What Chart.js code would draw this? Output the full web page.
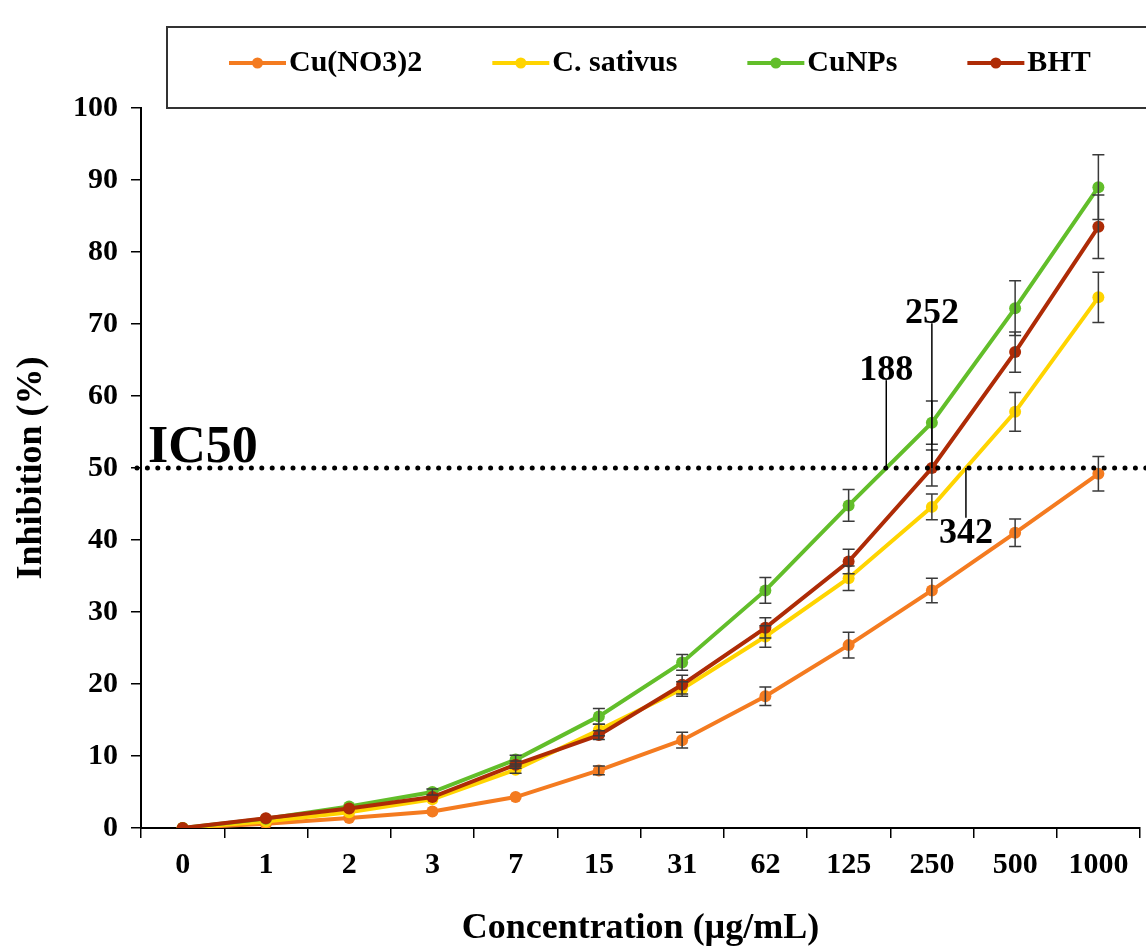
<!DOCTYPE html>
<html>
<head>
<meta charset="utf-8">
<script src="https://cdn.jsdelivr.net/npm/chart.js@4.4.0/dist/chart.umd.min.js"></script>
<style>
  html, body { margin: 0; padding: 0; background: #fff; }
</style>
</head>
<body>
<canvas id="inhibitionChart" width="1146" height="950"></canvas>
<script>
// Concentration categories (µg/mL)
const concentrations = ['0', '1', '2', '3', '7', '15', '31', '62', '125', '250', '500', '1000'];
const seriesNames = ['Cu(NO3)2', 'C. sativus', 'CuNPs', 'BHT'];

// Inhibition (%)
const cuNitrate = [0, 0.6, 1.4, 2.3, 4.3, 8.0, 12.2, 18.3, 25.4, 33.0, 41.0, 49.2];
const cSativus  = [0, 0.9, 2.2, 4.0, 8.1, 13.6, 19.3, 26.6, 34.7, 44.6, 57.8, 73.7];
const cuNPs     = [0, 1.3, 3.0, 5.0, 9.5, 15.5, 23.0, 33.0, 44.8, 56.3, 72.2, 89.0];
const bht       = [0, 1.35, 2.7, 4.3, 8.8, 12.9, 19.9, 27.8, 37.0, 50.0, 66.1, 83.5];

// +/- error (%)
const cuNitrateErr = [0, 0, 0, 0, 0, 0.6, 1.1, 1.3, 1.8, 1.7, 1.9, 2.4];
const cSativusErr  = [0, 0, 0, 0, 0.5, 0.8, 1.0, 1.5, 1.7, 1.8, 2.7, 3.5];
const cuNPsErr     = [0, 0, 0, 0.4, 0.6, 1.1, 1.1, 1.8, 2.2, 3.0, 3.8, 4.5];
const bhtErr       = [0, 0, 0, 0, 0.5, 0.6, 1.3, 1.4, 1.7, 2.5, 2.8, 4.4];

// IC50 markers: value text, series index it marks, y value where the label sits
const ic50Level = 50;
const ic50Labels = ['188', '252', '342'];
const ic50Series = [2, 3, 1];
const ic50LabelY = [62.2, 70.1, 43.1];

const seriesColors = ['#F47B20', '#FFD400', '#62BE2A', '#AE2B06'];
const errorBars = [cuNitrateErr, cSativusErr, cuNPsErr, bhtErr];
const serif = '"Liberation Serif", "Times New Roman", serif';

// error bars, IC50 line + labels, framed legend
const extras = {
    id: 'extras',
    afterDatasetsDraw(chart) {
        const {ctx, scales: {x, y}} = chart;
        ctx.save();
        ctx.strokeStyle = '#3a3a3a';
        ctx.lineWidth = 1.5;
        chart.data.datasets.forEach((ds, di) => {
            const errs = errorBars[di];
            ds.data.forEach((v, i) => {
                if (!errs[i]) return;
                const px = x.getPixelForValue(i);
                const top = y.getPixelForValue(v + errs[i]);
                const bot = y.getPixelForValue(v - errs[i]);
                ctx.beginPath();
                ctx.moveTo(px, top); ctx.lineTo(px, bot);
                ctx.moveTo(px - 6, top); ctx.lineTo(px + 6, top);
                ctx.moveTo(px - 6, bot); ctx.lineTo(px + 6, bot);
                ctx.stroke();
            });
        });

        // leader lines and labels where each curve crosses 50 %
        const yLevel = y.getPixelForValue(ic50Level);
        ctx.strokeStyle = '#000';
        ctx.fillStyle = '#000';
        ctx.lineWidth = 1.5;
        ctx.font = 'bold 36px ' + serif;
        ctx.textAlign = 'center';
        ic50Labels.forEach((txt, k) => {
            const d = chart.data.datasets[ic50Series[k]].data;
            let px = null;
            for (let i = 0; i < d.length - 1; i++) {
                if (d[i] < ic50Level && d[i + 1] >= ic50Level) {
                    const t = (ic50Level - d[i]) / (d[i + 1] - d[i]);
                    const a = x.getPixelForValue(i), b = x.getPixelForValue(i + 1);
                    px = a + t * (b - a);
                    break;
                }
            }
            if (px === null) return;
            const ly = y.getPixelForValue(ic50LabelY[k]);
            ctx.beginPath();
            ctx.moveTo(px, yLevel);
            ctx.lineTo(px, ly);
            ctx.stroke();
            if (ic50LabelY[k] > ic50Level) {
                ctx.textBaseline = 'alphabetic';
                ctx.fillText(txt, px, ly);
            } else {
                ctx.textBaseline = 'top';
                ctx.fillText(txt, px, ly - 2);
            }
        });

        // dotted IC50 line
        ctx.beginPath();
        ctx.setLineDash([0, 10.4]);
        ctx.lineCap = 'round';
        ctx.lineWidth = 5;
        ctx.moveTo(x.left - 4, yLevel);
        ctx.lineTo(chart.width, yLevel);
        ctx.stroke();
        ctx.setLineDash([]);

        ctx.font = 'bold 52px ' + serif;
        ctx.textAlign = 'left';
        ctx.textBaseline = 'alphabetic';
        ctx.fillText('IC50', x.left + 7, yLevel - 6);
        ctx.restore();
    },
    afterDraw(chart) {
        const {ctx} = chart;
        ctx.save();
        ctx.strokeStyle = '#333';
        ctx.lineWidth = 2;
        ctx.strokeRect(167, 27, 1000, 81);
        ctx.font = 'bold 30px ' + serif;
        ctx.textBaseline = 'middle';
        ctx.textAlign = 'left';
        let cx = 229;
        const cy = 63;
        chart.data.datasets.forEach(ds => {
            ctx.strokeStyle = ds.borderColor;
            ctx.fillStyle = ds.borderColor;
            ctx.lineWidth = 4;
            ctx.beginPath();
            ctx.moveTo(cx, cy);
            ctx.lineTo(cx + 57, cy);
            ctx.stroke();
            ctx.beginPath();
            ctx.arc(cx + 28.5, cy, 5.5, 0, Math.PI * 2);
            ctx.fill();
            ctx.fillStyle = '#000';
            ctx.fillText(ds.label, cx + 60, cy);
            cx += 60 + ctx.measureText(ds.label).width + 70;
        });
        ctx.restore();
    }
};

const seriesData = [cuNitrate, cSativus, cuNPs, bht];
const drawOrder = [3, 2, 1, 0];

const ctx = document.getElementById('inhibitionChart').getContext('2d');
const inhibitionChart = new Chart(ctx, {
    type: 'line',
    data: {
        labels: concentrations,
        datasets: seriesNames.map((name, i) => ({
            label: name,
            data: seriesData[i],
            borderColor: seriesColors[i],
            backgroundColor: seriesColors[i],
            pointBackgroundColor: seriesColors[i],
            pointBorderWidth: 0,
            pointRadius: 6,
            borderWidth: 4,
            tension: 0,
            fill: false,
            order: drawOrder[i]
        }))
    },
    options: {
        responsive: false,
        animation: false,
        layout: {
            padding: { top: 108, right: 4, bottom: 0, left: 0 }
        },
        plugins: {
            legend: { display: false },
            tooltip: { enabled: false }
        },
        scales: {
            x: {
                offset: true,
                afterFit(scale) { scale.height = 122; },
                grid: {
                    offset: true,
                    drawOnChartArea: false,
                    drawTicks: true,
                    tickLength: 10,
                    color: '#000',
                    lineWidth: 1.5
                },
                border: { display: true, color: '#000', width: 2 },
                ticks: {
                    color: '#000',
                    padding: 9,
                    maxRotation: 0,
                    font: { family: serif, size: 30, weight: 'bold' }
                },
                title: {
                    display: true,
                    text: 'Concentration (µg/mL)',
                    color: '#000',
                    padding: { top: 0, bottom: 0 },
                    font: { family: serif, size: 36, weight: 'bold' }
                }
            },
            y: {
                min: 0,
                max: 100,
                afterFit(scale) { scale.width = 141; },
                grid: {
                    drawOnChartArea: false,
                    drawTicks: true,
                    tickLength: 10,
                    color: '#000',
                    lineWidth: 1.5
                },
                border: { display: true, color: '#000', width: 2 },
                ticks: {
                    stepSize: 10,
                    color: '#000',
                    padding: 13,
                    font: { family: serif, size: 30, weight: 'bold' }
                },
                title: {
                    display: true,
                    text: 'Inhibition (%)',
                    color: '#000',
                    padding: { top: 10, bottom: 0 },
                    font: { family: serif, size: 36, weight: 'bold' }
                }
            }
        }
    },
    plugins: [extras]
});
</script>
</body>
</html>
